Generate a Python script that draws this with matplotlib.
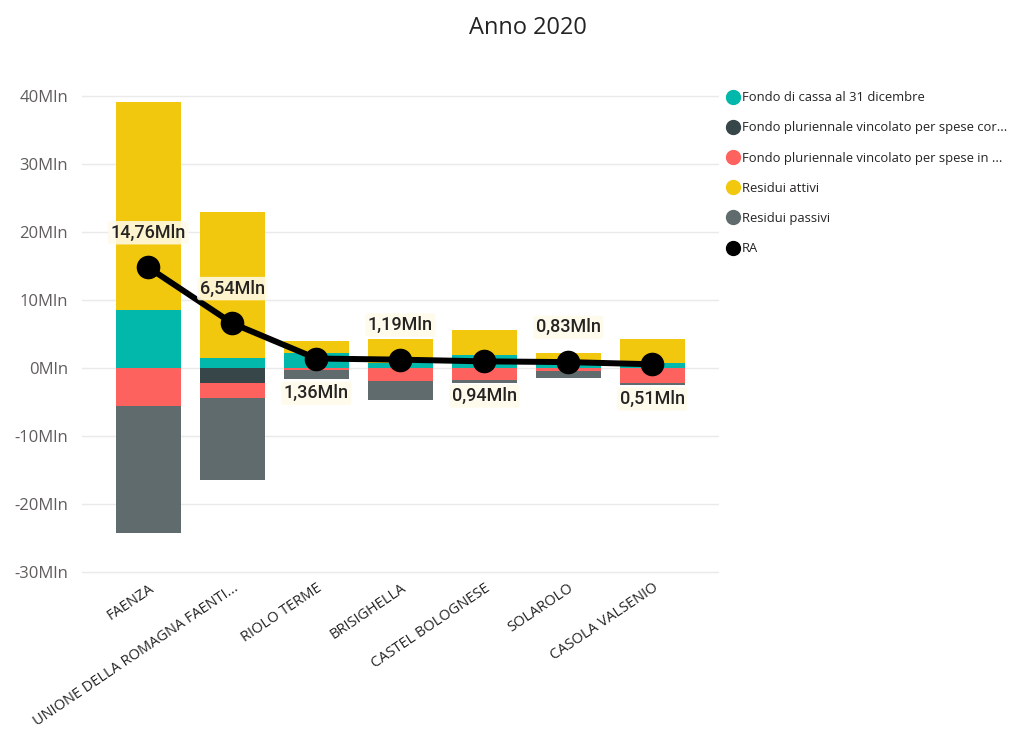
import matplotlib.pyplot as plt
from matplotlib.lines import Line2D
from matplotlib.ticker import FuncFormatter
import numpy as np

comuni = ["FAENZA", "UNIONE DELLA ROMAGNA FAENTI...", "RIOLO TERME", "BRISIGHELLA",
          "CASTEL BOLOGNESE", "SOLAROLO", "CASOLA VALSENIO"]

# valori in milioni di euro
fondo_cassa = [8.5, 1.5, 2.2, 0.7, 1.9, 0.5, 0.7]
fpv_correnti = [0.0, -2.2, 0.0, 0.0, 0.0, 0.0, 0.0]
fpv_capitale = [-5.6, -2.2, -0.4, -1.9, -1.8, -0.5, -2.2]
residui_attivi = [30.6, 21.4, 1.8, 3.6, 3.7, 1.7, 3.6]
residui_passivi = [-18.7, -12.1, -1.2, -2.9, -0.4, -1.0, -0.3]
ra = [14.76, 6.54, 1.36, 1.19, 0.94, 0.83, 0.51]
ra_labels = ["14,76Mln", "6,54Mln", "1,36Mln", "1,19Mln", "0,94Mln", "0,83Mln", "0,51Mln"]
label_above = [True, True, False, True, False, True, False]

series = [
    ("Fondo di cassa al 31 dicembre", fondo_cassa, "#01B8AA"),
    ("Fondo pluriennale vincolato per spese cor...", fpv_correnti, "#374649"),
    ("Fondo pluriennale vincolato per spese in ...", fpv_capitale, "#FD625E"),
    ("Residui attivi", residui_attivi, "#F2C80F"),
    ("Residui passivi", residui_passivi, "#5F6B6D"),
]

plt.rcParams['font.family'] = ['Open Sans', 'DejaVu Sans']

fig = plt.figure(figsize=(10.15, 7.35), dpi=100)
ax = fig.add_axes([0.0808, 0.2177, 0.628, 0.661])

x = np.arange(len(comuni))
pos_bottom = np.zeros(len(comuni))
neg_bottom = np.zeros(len(comuni))
for name, vals, col in series:
    vals = np.array(vals)
    bottom = np.where(vals >= 0, pos_bottom, neg_bottom)
    ax.bar(x, vals, 0.77, bottom=bottom, color=col, zorder=2)
    pos_bottom = pos_bottom + np.clip(vals, 0, None)
    neg_bottom = neg_bottom + np.clip(vals, None, 0)

ax.plot(x, ra, color="black", lw=4.3, marker="o", ms=16, zorder=4)

for i in range(len(comuni)):
    off = 25 if label_above[i] else -25
    ax.annotate(ra_labels[i], (x[i], ra[i]), xytext=(0, off), textcoords="offset points",
                ha="center", va="center", fontsize=13, color="#252423",
                family=["Roboto", "DejaVu Sans"], fontweight="medium", zorder=5,
                bbox=dict(boxstyle="round,pad=0.15", fc="#fffbea", ec="none", alpha=0.88))

ax.set_xlim(-0.79, 6.80)
ax.set_ylim(-30.5, 41)
ax.set_yticks([-30, -20, -10, 0, 10, 20, 30, 40])
ax.yaxis.set_major_formatter(FuncFormatter(lambda v, p: f"{int(v)}Mln"))
ax.grid(axis="y", color="#eaeaea", lw=1, zorder=0)
for s in ax.spines.values():
    s.set_visible(False)
ax.tick_params(axis="y", length=0, pad=10, labelsize=12, labelcolor="#605E5C")
ax.tick_params(axis="x", length=0, pad=4)
ax.set_xticks(x)
ax.set_xticklabels(comuni, rotation=34, ha="right", rotation_mode="anchor",
                   fontsize=10.5, color="#252423")

fig.text(0.52, 0.962, "Anno 2020", ha="center", va="center", fontsize=17, color="#252423")

handles = [Line2D([], [], ls="none", marker="o", ms=10, color=c) for _, _, c in series]
handles.append(Line2D([], [], ls="none", marker="o", ms=10, color="black"))
labels = [s[0] for s in series] + ["RA"]
fig.legend(handles, labels, loc="upper left", bbox_to_anchor=(0.703, 0.892), frameon=False,
           fontsize=9.4, labelspacing=1.32, handletextpad=0.05, handlelength=1.2,
           labelcolor="#252423")

fig.savefig("out.png", dpi=100)
